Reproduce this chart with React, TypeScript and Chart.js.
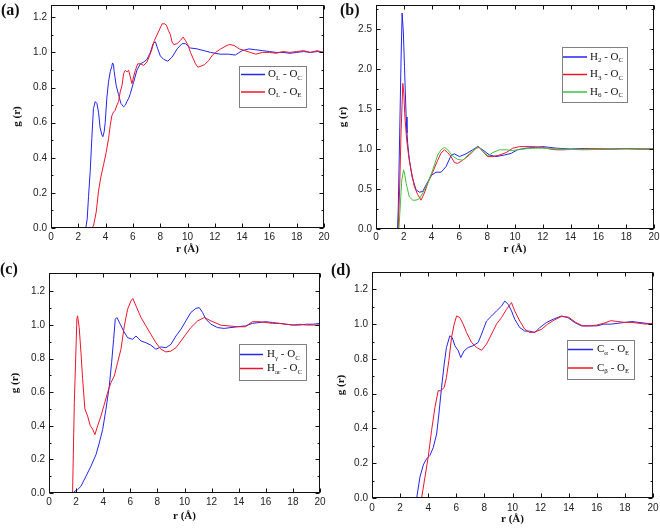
import React, { useEffect, useRef } from "react";
import { Chart, registerables } from "chart.js";
Chart.register(...registerables);

// ---------- shared ticks ----------
const X_TICKS = [0, 2, 4, 6, 8, 10, 12, 14, 16, 18, 20];
const Y_TICKS_12 = [0, 0.2, 0.4, 0.6, 0.8, 1.0, 1.2];
const Y_TICKS_25 = [0, 0.5, 1.0, 1.5, 2.0, 2.5];

// ---------- (a) ----------
const rA_OC = [0, 2.55, 2.65, 2.75, 2.87, 2.99, 3.11, 3.24, 3.36, 3.48, 3.6, 3.73, 3.8, 3.9, 3.97, 4.09, 4.21, 4.34, 4.45, 4.51, 4.58, 4.63, 4.78, 4.95, 5.12, 5.32, 5.45, 5.56, 5.7, 5.81, 6.05, 6.3, 6.55, 6.79, 7.03, 7.28, 7.48, 7.65, 7.82, 8.01, 8.26, 8.55, 8.87, 9.24, 9.6, 9.85, 10.22, 10.71, 11.2, 11.69, 12.4, 13.0, 13.5, 14.0, 14.5, 15.0, 15.5, 16.0, 16.5, 17.0, 17.5, 18.0, 18.5, 19.0, 19.5, 20];
const gA_OC = [0, 0, 0.05, 0.18, 0.32, 0.51, 0.68, 0.72, 0.71, 0.66, 0.57, 0.53, 0.52, 0.55, 0.6, 0.74, 0.83, 0.89, 0.92, 0.94, 0.93, 0.89, 0.81, 0.76, 0.71, 0.69, 0.7, 0.72, 0.74, 0.765, 0.83, 0.9, 0.935, 0.945, 0.96, 1.0, 1.05, 1.06, 1.02, 0.98, 0.96, 0.95, 0.973, 1.02, 1.05, 1.05, 1.025, 1.02, 1.01, 1.0, 0.99, 0.99, 0.985, 1.01, 1.02, 1.015, 1.01, 1.005, 1.0, 1.0, 0.995, 1.0, 1.005, 1.0, 1.005, 1.0];
const rA_OE = [0, 2.95, 3.11, 3.31, 3.48, 3.65, 3.85, 4.04, 4.22, 4.34, 4.46, 4.58, 4.7, 4.83, 4.95, 5.07, 5.2, 5.32, 5.44, 5.56, 5.69, 5.81, 5.93, 6.05, 6.18, 6.35, 6.55, 6.79, 7.03, 7.23, 7.4, 7.57, 7.77, 7.97, 8.14, 8.31, 8.46, 8.6, 8.75, 8.87, 9.0, 9.24, 9.48, 9.68, 9.85, 10.02, 10.22, 10.42, 10.59, 10.76, 11.0, 11.25, 11.57, 11.81, 12.06, 12.43, 12.9, 13.1, 13.4, 13.8, 14.2, 14.6, 15.0, 15.5, 16.0, 16.5, 17.0, 17.5, 18.0, 18.5, 19.0, 19.5, 20];
const gA_OE = [0, 0, 0.01, 0.09, 0.21, 0.29, 0.36, 0.43, 0.51, 0.585, 0.64, 0.66, 0.67, 0.7, 0.72, 0.775, 0.81, 0.88, 0.898, 0.889, 0.898, 0.86, 0.822, 0.86, 0.898, 0.935, 0.935, 0.926, 0.945, 0.983, 1.02, 1.068, 1.1, 1.134, 1.163, 1.163, 1.155, 1.125, 1.1, 1.059, 1.044, 1.05, 1.068, 1.087, 1.068, 1.044, 1.0, 0.964, 0.935, 0.916, 0.922, 0.93, 0.955, 0.983, 1.0, 1.02, 1.04, 1.045, 1.04, 1.02, 1.01, 1.0, 0.99, 1.0, 1.0, 0.995, 1.005, 1.0, 1.005, 1.01, 1.0, 1.01, 1.0];

// ---------- (b) ----------
const rB_H2 = [0, 1.55, 1.6, 1.7, 1.8, 1.88, 1.97, 2.05, 2.11, 2.17, 2.23, 2.28, 2.4, 2.6, 2.88, 3.13, 3.36, 3.6, 3.98, 4.32, 4.68, 5.04, 5.4, 5.64, 6.0, 6.48, 6.96, 7.32, 7.68, 8.16, 8.64, 9.24, 9.72, 10.18, 10.78, 11.48, 12.0, 12.5, 13.0, 14, 15, 16, 17, 18, 19, 20];
const gB_H2 = [0, 0, 0.25, 1.15, 2.1, 2.7, 2.45, 2.03, 1.7, 1.4, 1.2, 1.07, 0.86, 0.65, 0.49, 0.46, 0.47, 0.55, 0.67, 0.71, 0.71, 0.78, 0.92, 0.94, 0.905, 0.94, 0.99, 1.03, 0.99, 0.925, 0.905, 0.925, 0.945, 0.99, 1.01, 1.02, 1.03, 1.02, 1.01, 1.0, 1.005, 0.995, 1.0, 1.005, 1.0, 1.0];
const rB_H3 = [0, 1.6, 1.7, 1.8, 1.93, 2.0, 2.08, 2.21, 2.36, 2.52, 2.76, 3.0, 3.24, 3.48, 3.72, 4.08, 4.44, 4.68, 4.92, 5.16, 5.4, 5.64, 5.88, 6.24, 6.72, 7.2, 7.38, 7.68, 8.03, 8.4, 8.88, 9.36, 9.84, 10.32, 11.28, 12.0, 12.5, 13.0, 13.5, 14, 15, 16, 17, 18, 19, 20];
const gB_H3 = [0, 0, 0.5, 1.2, 1.82, 1.7, 1.4, 1.11, 0.9, 0.74, 0.53, 0.43, 0.36, 0.45, 0.57, 0.71, 0.86, 0.95, 0.99, 0.955, 0.905, 0.83, 0.82, 0.86, 0.925, 1.01, 1.03, 0.97, 0.905, 0.905, 0.925, 0.955, 1.01, 1.03, 1.03, 1.02, 1.0, 0.99, 0.99, 0.995, 1.0, 1.005, 1.0, 1.005, 1.0, 1.0];
const rB_H6 = [0, 1.65, 1.75, 1.85, 1.98, 2.05, 2.17, 2.4, 2.65, 2.88, 3.13, 3.36, 3.72, 4.08, 4.44, 4.68, 4.92, 5.16, 5.52, 5.88, 6.24, 6.72, 7.2, 7.44, 7.8, 8.08, 8.4, 8.88, 9.38, 9.84, 10.32, 11.28, 12.0, 13.0, 14, 15, 16, 17, 18, 19, 20];
const gB_H6 = [0, 0, 0.3, 0.6, 0.74, 0.7, 0.57, 0.4, 0.36, 0.36, 0.38, 0.45, 0.57, 0.74, 0.925, 0.99, 1.02, 0.99, 0.91, 0.87, 0.86, 0.94, 1.01, 1.02, 0.95, 0.915, 0.955, 0.99, 0.99, 0.98, 0.995, 1.01, 1.01, 1.0, 0.995, 0.99, 0.995, 1.0, 1.0, 1.0, 1.0];

// ---------- (c) ----------
const rC_Hg = [0, 1.75, 1.99, 2.11, 2.36, 2.73, 3.1, 3.47, 3.71, 3.96, 4.2, 4.45, 4.62, 4.77, 4.89, 5.01, 5.26, 5.5, 5.8, 6.17, 6.42, 6.79, 7.15, 7.52, 7.89, 8.26, 8.63, 9.0, 9.37, 9.74, 10.1, 10.47, 10.84, 11.09, 11.33, 11.58, 11.95, 12.44, 12.93, 13.92, 14.5, 15, 15.5, 16, 16.5, 17, 17.5, 18, 18.5, 19, 19.5, 20];
const gC_Hg = [0, 0, 0.015, 0.02, 0.04, 0.1, 0.16, 0.229, 0.298, 0.378, 0.497, 0.637, 0.776, 0.915, 1.035, 1.045, 1.005, 0.965, 0.925, 0.915, 0.935, 0.905, 0.895, 0.88, 0.856, 0.87, 0.865, 0.885, 0.935, 0.975, 1.025, 1.075, 1.099, 1.104, 1.075, 1.035, 1.005, 0.985, 0.98, 0.99, 0.995, 1.01, 1.015, 1.02, 1.015, 1.01, 1.005, 1.0, 1.0, 1.005, 1.005, 1.01];
const rC_Har = [0, 1.74, 1.87, 2.06, 2.11, 2.23, 2.36, 2.48, 2.65, 2.85, 3.05, 3.22, 3.39, 3.59, 3.83, 4.08, 4.32, 4.57, 4.82, 5.06, 5.31, 5.56, 5.8, 6.05, 6.19, 6.42, 6.79, 7.15, 7.52, 7.89, 8.26, 8.63, 9.0, 9.37, 9.74, 10.1, 10.47, 10.97, 11.46, 11.95, 12.69, 13.92, 14.5, 15, 15.5, 16, 16.5, 17, 17.5, 18, 18.5, 19, 19.5, 20];
const gC_Har = [0, 0, 0.54, 1.04, 1.055, 0.985, 0.835, 0.68, 0.5, 0.458, 0.4, 0.38, 0.348, 0.4, 0.458, 0.527, 0.597, 0.657, 0.697, 0.776, 0.856, 0.995, 1.094, 1.144, 1.158, 1.114, 1.045, 0.995, 0.945, 0.895, 0.856, 0.84, 0.845, 0.865, 0.905, 0.945, 0.985, 1.025, 1.045, 1.025, 0.999, 0.99, 0.99, 1.02, 1.02, 1.015, 1.01, 1.01, 1.005, 1.0, 1.005, 1.0, 1.0, 1.0];

// ---------- (d) ----------
const rD_Ca = [0, 3.18, 3.41, 3.65, 3.88, 4.12, 4.36, 4.6, 4.76, 4.95, 5.14, 5.3, 5.54, 5.71, 5.9, 6.14, 6.32, 6.56, 6.85, 7.2, 7.56, 7.8, 8.15, 8.51, 8.86, 9.22, 9.45, 9.69, 9.93, 10.16, 10.52, 10.87, 11.23, 11.58, 11.94, 12.41, 12.89, 13.48, 13.95, 14.43, 14.9, 15.5, 16, 16.5, 17, 17.5, 18, 18.5, 19, 19.5, 20];
const gD_Ca = [0, 0, 0.12, 0.19, 0.225, 0.245, 0.29, 0.368, 0.483, 0.636, 0.771, 0.866, 0.933, 0.923, 0.876, 0.847, 0.808, 0.847, 0.866, 0.876, 0.895, 0.943, 1.018, 1.047, 1.076, 1.104, 1.133, 1.114, 1.076, 1.028, 0.98, 0.96, 0.96, 0.951, 0.98, 1.009, 1.028, 1.047, 1.037, 1.009, 0.99, 0.99, 0.99, 1.0, 1.0, 1.005, 1.01, 1.015, 1.01, 1.005, 1.0];
const rD_Cb = [0, 3.53, 3.77, 4.0, 4.24, 4.48, 4.71, 4.9, 5.14, 5.3, 5.47, 5.66, 5.85, 6.02, 6.25, 6.49, 6.73, 7.08, 7.44, 7.8, 8.15, 8.51, 8.86, 9.22, 9.57, 9.93, 10.16, 10.52, 10.87, 11.23, 11.58, 12.06, 12.5, 13.0, 13.5, 14.0, 14.5, 15.0, 15.5, 16.0, 16.5, 17.0, 17.5, 18.0, 18.5, 19.0, 19.5, 20];
const gD_Cb = [0, 0, 0.12, 0.235, 0.388, 0.522, 0.617, 0.617, 0.636, 0.694, 0.79, 0.923, 1.0, 1.047, 1.038, 1.0, 0.952, 0.895, 0.866, 0.85, 0.885, 0.943, 1.0, 1.038, 1.085, 1.124, 1.076, 1.018, 0.971, 0.952, 0.955, 0.97, 1.0, 1.025, 1.045, 1.04, 1.01, 0.99, 0.99, 0.995, 1.005, 1.02, 1.015, 1.01, 1.01, 1.005, 1.0, 1.005];

// ---------- styles ----------
const BLUE = "#2424f0";
const RED = "#f0142a";
const GREEN = "#3cc43c";
const SERIF = '"Liberation Serif", "Times New Roman", serif';
const SANS = '"Liberation Sans", Arial, sans-serif';

type Series = { label: string; r: number[]; g: number[]; color: string };
type Panel = {
  tag: string;
  left: number; top: number; width: number; height: number;
  pad: { left: number; right: number; top: number; bottom: number };
  yWidth: number; xHeight: number; xPad: number;
  yMax: number; yTicks: number[];
  series: Series[];
  legend: { box: [number, number, number, number]; rows: number[]; line: [number, number]; textX: number };
  tagPos: [number, number];
};

const PANELS: Panel[] = [
  {
    tag: "(a)", left: 0, top: 0, width: 330, height: 260,
    pad: { left: 12, right: 6, top: 5, bottom: 5 }, yWidth: 39, xHeight: 27, xPad: 3,
    yMax: 1.27, yTicks: Y_TICKS_12,
    series: [
      { label: "O_{L} - O_{C}", r: rA_OC, g: gA_OC, color: BLUE },
      { label: "O_{L} - O_{E}", r: rA_OE, g: gA_OE, color: RED },
    ],
    legend: { box: [239, 66, 306, 107], rows: [74.5, 92], line: [241, 265], textX: 268 },
    tagPos: [1, 11],
  },
  {
    tag: "(b)", left: 330, top: 0, width: 330, height: 260,
    pad: { left: 8, right: 6, top: 5, bottom: 5 }, yWidth: 38, xHeight: 26, xPad: 2,
    yMax: 2.8, yTicks: Y_TICKS_25,
    series: [
      { label: "H_{2} - O_{C}", r: rB_H2, g: gB_H2, color: BLUE },
      { label: "H_{3} - O_{C}", r: rB_H3, g: gB_H3, color: RED },
      { label: "H_{6} - O_{C}", r: rB_H6, g: gB_H6, color: GREEN },
    ],
    legend: { box: [232, 47, 297, 102], rows: [57, 74.5, 92], line: [233, 257], textX: 260 },
    tagPos: [10, 11],
  },
  {
    tag: "(c)", left: 0, top: 260, width: 330, height: 269,
    pad: { left: 9.5, right: 10, top: 13, bottom: 7 }, yWidth: 39.5, xHeight: 29, xPad: 3,
    yMax: 1.31, yTicks: Y_TICKS_12,
    series: [
      { label: "H_{γ} - O_{C}", r: rC_Hg, g: gC_Hg, color: BLUE },
      { label: "H_{ar} - O_{C}", r: rC_Har, g: gC_Har, color: RED },
    ],
    legend: { box: [239, 84, 306, 120], rows: [94.5, 108.5], line: [240, 263], textX: 267 },
    tagPos: [0, 10],
  },
  {
    tag: "(d)", left: 330, top: 260, width: 330, height: 269,
    pad: { left: 5.5, right: 7, top: 12, bottom: 4 }, yWidth: 36.5, xHeight: 27, xPad: 4,
    yMax: 1.3, yTicks: Y_TICKS_12,
    series: [
      { label: "C_{α} - O_{E}", r: rD_Ca, g: gD_Ca, color: BLUE },
      { label: "C_{β} - O_{E}", r: rD_Cb, g: gD_Cb, color: RED },
    ],
    legend: { box: [237, 80, 304, 119], rows: [89.5, 108], line: [238, 263], textX: 267 },
    tagPos: [1, 11],
  },
];

function drawRich(ctx: CanvasRenderingContext2D, text: string, x: number, y: number, size: number) {
  const parts = text.split(/(_\{[^}]*\})/).filter((p) => p.length > 0);
  let cx = x;
  for (const p of parts) {
    const sub = p.startsWith("_{");
    const t = sub ? p.slice(2, -1) : p;
    ctx.font = `${sub ? Math.round(size * 0.65) : size}px ${SERIF}`;
    ctx.fillText(t, cx, sub ? y + size * 0.3 : y);
    cx += ctx.measureText(t).width;
  }
}

function PanelChart({ p }: { p: Panel }) {
  const ref = useRef<HTMLCanvasElement | null>(null);
  useEffect(() => {
    if (!ref.current) return;
    const n = p.series.length;
    const decor = {
      id: "decor",
      afterDraw(chart: any) {
        const ctx: CanvasRenderingContext2D = chart.ctx;
        const { left, right, top, bottom } = chart.chartArea;
        const xs = chart.scales.x;
        const ys = chart.scales.y;
        ctx.save();
        ctx.strokeStyle = "#111";
        ctx.lineWidth = 1;
        const L = Math.round(left) + 0.5, R = Math.round(right) - 0.5;
        const T = Math.round(top) + 0.5, B = Math.round(bottom) - 0.5;
        ctx.strokeRect(L, T, R - L, B - T);
        ctx.beginPath();
        X_TICKS.forEach((v) => {
          const px = Math.round(xs.getPixelForValue(v)) + 0.5;
          ctx.moveTo(px, B); ctx.lineTo(px, B - 4);
          ctx.moveTo(px, T); ctx.lineTo(px, T + 4);
        });
        const yt = p.yTicks;
        const step = yt[1] - yt[0];
        const yMinor: number[] = [];
        for (let i = 0; i < yt.length - 1; i++) yMinor.push((yt[i] + yt[i + 1]) / 2);
        if (yt[yt.length - 1] + step / 2 < p.yMax - 0.02) yMinor.push(yt[yt.length - 1] + step / 2);
        const tickY = (v: number, len: number) => {
          const py = Math.round(ys.getPixelForValue(v)) + 0.5;
          ctx.moveTo(L, py); ctx.lineTo(L + len, py);
          ctx.moveTo(R, py); ctx.lineTo(R - len, py);
        };
        yt.forEach((v) => tickY(v, 4));
        yMinor.forEach((v) => tickY(v, 2));
        ctx.stroke();

        // legend
        const lg = p.legend;
        const [bx0, by0, bx1, by1] = lg.box;
        ctx.fillStyle = "#fff";
        ctx.fillRect(bx0, by0, bx1 - bx0, by1 - by0);
        ctx.strokeStyle = "#808080";
        ctx.strokeRect(bx0 + 0.5, by0 + 0.5, bx1 - bx0, by1 - by0);
        p.series.forEach((s, i) => {
          const ry = lg.rows[i];
          ctx.strokeStyle = s.color;
          ctx.lineWidth = 1.5;
          ctx.beginPath();
          ctx.moveTo(lg.line[0], ry);
          ctx.lineTo(lg.line[1], ry);
          ctx.stroke();
          ctx.fillStyle = "#111";
          ctx.textBaseline = "middle";
          ctx.textAlign = "left";
          drawRich(ctx, s.label, lg.textX, ry, 11);
        });

        // panel tag
        ctx.fillStyle = "#111";
        ctx.font = `bold 16px ${SERIF}`;
        ctx.textBaseline = "middle";
        ctx.textAlign = "left";
        ctx.fillText(p.tag, p.tagPos[0], p.tagPos[1]);
        ctx.restore();
      },
    };

    const chart = new Chart(ref.current, {
      type: "line",
      data: {
        datasets: p.series.map((s, i) => ({
          label: s.label.replace(/_\{([^}]*)\}/g, "$1"),
          data: s.r.slice(0, Math.min(s.r.length, s.g.length)).map((rv, k) => ({ x: rv, y: s.g[k] })),
          borderColor: s.color,
          backgroundColor: s.color,
          borderWidth: 1,
          pointRadius: 0,
          tension: 0,
          fill: false,
          order: n - i,
        })),
      },
      options: {
        animation: false,
        responsive: false,
        maintainAspectRatio: false,
        devicePixelRatio: 1,
        layout: { padding: p.pad },
        plugins: { legend: { display: false }, tooltip: { enabled: false } },
        scales: {
          x: {
            type: "linear",
            min: 0,
            max: 20,
            afterBuildTicks: (s: any) => { s.ticks = X_TICKS.map((v) => ({ value: v })); },
            afterFit: (s: any) => { s.height = p.xHeight; s.paddingLeft = 0; s.paddingRight = 0; },
            grid: { display: false, drawTicks: false },
            border: { display: false },
            ticks: {
              padding: p.xPad,
              color: "#222",
              font: { family: SANS, size: 10 },
              callback: (v: any) => String(v),
              maxRotation: 0,
              autoSkip: false,
            },
            title: {
              display: true,
              text: "r (Å)",
              color: "#111",
              padding: 0,
              font: { family: SERIF, size: 11, weight: "bold", lineHeight: 1 },
            },
          },
          y: {
            type: "linear",
            min: 0,
            max: p.yMax,
            afterBuildTicks: (s: any) => { s.ticks = p.yTicks.map((v) => ({ value: v })); },
            afterFit: (s: any) => { s.width = p.yWidth; s.paddingTop = 0; s.paddingBottom = 0; },
            grid: { display: false, drawTicks: false },
            border: { display: false },
            ticks: {
              padding: 4,
              color: "#222",
              font: { family: SANS, size: 10 },
              callback: (v: any) => Number(v).toFixed(1),
              autoSkip: false,
            },
            title: {
              display: true,
              text: "g (r)",
              color: "#111",
              padding: 0,
              font: { family: SERIF, size: 11, weight: "bold", lineHeight: 1 },
            },
          },
        },
      },
      plugins: [decor],
    } as any);
    return () => chart.destroy();
  }, [p]);

  return (
    <canvas
      ref={ref}
      width={p.width}
      height={p.height}
      style={{ position: "absolute", left: p.left, top: p.top, width: p.width, height: p.height, display: "block" }}
    />
  );
}

export default function App() {
  return (
    <div style={{ position: "fixed", left: 0, top: 0, width: 660, height: 529, background: "#fff", overflow: "hidden" }}>
      {PANELS.map((p) => (
        <PanelChart key={p.tag} p={p} />
      ))}
    </div>
  );
}
